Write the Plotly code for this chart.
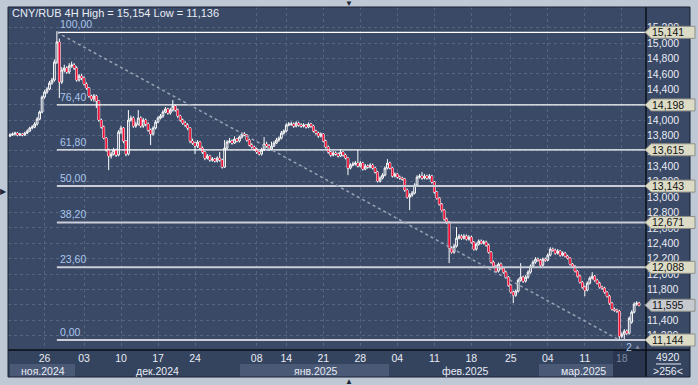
import plotly.graph_objects as go

W, H = 698, 385

# ---------------- data (CNY/RUB, 4H candles) ----------------
opens = [13.793,13.806,13.819,13.832,13.806,13.819,13.806,13.832,13.858,13.897,
13.910,13.949,14.014,14.105,14.300,14.365,14.404,14.482,14.521,14.755,
15.015,14.495,14.651,14.677,14.625,14.703,14.716,14.677,14.521,14.573,
14.547,14.469,14.417,14.313,14.274,14.313,14.248,14.001,13.910,13.767,
13.611,13.533,13.559,13.611,13.546,13.845,13.897,13.728,13.559,14.001,
14.027,13.923,13.949,14.027,13.923,14.001,13.949,13.871,13.819,13.897,
13.975,14.027,14.053,14.105,14.144,14.092,14.131,14.183,14.131,14.053,
14.001,13.962,13.936,13.897,13.728,13.702,13.663,13.715,13.637,13.585,
13.507,13.533,13.481,13.494,13.468,13.507,13.481,13.390,13.637,13.715,
13.728,13.702,13.754,13.728,13.780,13.819,13.806,13.741,13.676,13.650,
13.624,13.585,13.559,13.611,13.689,13.663,13.624,13.663,13.702,13.741,
13.767,13.832,13.858,13.936,13.949,13.949,13.923,13.962,13.936,13.923,
13.936,13.910,13.949,13.923,13.858,13.832,13.793,13.819,13.728,13.650,
13.585,13.546,13.572,13.559,13.533,13.585,13.546,13.507,13.377,13.416,
13.429,13.442,13.403,13.442,13.364,13.403,13.390,13.416,13.377,13.325,
13.208,13.247,13.286,13.377,13.442,13.377,13.273,13.299,13.260,13.247,
13.234,13.091,13.000,13.026,13.052,13.156,13.260,13.273,13.247,13.273,
13.247,13.273,13.195,13.065,12.987,12.909,12.831,12.714,12.675,12.337,
12.285,12.363,12.467,12.493,12.467,12.493,12.454,12.480,12.415,12.324,
12.389,12.428,12.402,12.415,12.376,12.285,12.155,12.103,12.038,12.129,
12.077,12.025,11.960,11.856,11.765,11.726,11.778,11.921,11.960,11.908,
11.960,12.025,12.103,12.155,12.194,12.181,12.116,12.194,12.181,12.246,
12.324,12.311,12.272,12.298,12.246,12.272,12.233,12.207,12.129,12.103,
12.038,11.973,11.895,11.830,11.791,11.882,11.947,11.973,11.921,11.882,
11.830,11.817,11.765,11.713,11.622,11.544,11.531,11.518,11.193,11.219,
11.258,11.232,11.375,11.505,11.609,11.622]

highs = [13.830,13.840,13.850,13.845,13.835,13.830,13.850,13.880,13.915,13.935,
13.975,14.040,14.125,14.320,14.390,14.430,14.510,14.550,14.790,15.154,
15.060,14.690,14.720,14.700,14.740,14.760,14.740,14.700,14.600,14.600,
14.570,14.490,14.430,14.330,14.340,14.330,14.260,14.020,13.930,13.780,
13.630,13.590,13.640,13.630,13.870,13.930,13.910,13.740,14.131,14.060,
14.050,13.980,14.131,14.050,14.030,14.020,13.970,13.890,13.920,14.000,
14.050,14.080,14.130,14.170,14.160,14.160,14.261,14.200,14.150,14.070,
14.020,13.990,13.960,13.910,13.760,13.720,13.740,13.730,13.660,13.600,
13.560,13.550,13.520,13.510,13.530,13.585,13.500,13.741,13.740,13.770,
13.750,13.790,13.770,13.800,13.840,13.845,13.820,13.760,13.700,13.670,
13.640,13.600,13.640,13.780,13.720,13.690,13.720,13.730,13.770,13.790,
13.860,13.880,13.960,13.975,13.980,13.970,13.985,13.980,13.960,13.960,
13.950,13.970,13.965,13.940,13.875,13.850,13.840,13.830,13.745,13.670,
13.600,13.600,13.595,13.580,13.620,13.600,13.565,13.520,13.440,13.460,
13.470,13.611,13.470,13.460,13.430,13.425,13.440,13.435,13.395,13.340,
13.270,13.310,13.400,13.494,13.460,13.390,13.320,13.315,13.280,13.265,
13.250,13.110,13.050,13.080,13.180,13.285,13.300,13.325,13.300,13.290,
13.300,13.290,13.210,13.080,13.000,12.925,12.845,12.735,12.690,12.360,
12.390,12.610,12.520,12.515,12.520,12.515,12.505,12.500,12.430,12.410,
12.450,12.450,12.440,12.435,12.395,12.300,12.175,12.120,12.150,12.150,
12.095,12.045,11.975,11.870,11.785,11.800,11.945,12.142,11.980,11.985,
12.050,12.125,12.180,12.220,12.215,12.200,12.215,12.215,12.270,12.350,
12.345,12.330,12.325,12.315,12.295,12.290,12.250,12.220,12.145,12.115,
12.050,11.990,11.910,11.850,11.905,11.970,12.025,11.990,11.940,11.900,
11.850,11.835,11.780,11.730,11.640,11.565,11.550,11.535,11.245,11.285,
11.280,11.450,11.530,11.635,11.648,11.640]

lows = [13.780,13.795,13.800,13.790,13.795,13.790,13.795,13.820,13.845,13.880,
13.895,13.930,14.000,14.090,14.280,14.340,14.390,14.460,14.500,14.730,
14.287,14.470,14.620,14.600,14.600,14.680,14.650,14.500,14.500,14.520,
14.450,14.395,14.290,14.250,14.240,14.157,13.980,13.890,13.750,13.590,
13.351,13.500,13.540,13.520,13.530,13.820,13.700,13.530,13.540,13.980,
13.900,13.900,13.930,13.900,13.900,13.920,13.850,13.676,13.800,13.880,
13.960,14.010,14.030,14.090,14.070,14.070,14.110,14.110,14.030,13.980,
13.940,13.910,13.870,13.700,13.680,13.559,13.640,13.610,13.560,13.480,
13.490,13.460,13.460,13.450,13.450,13.460,13.370,13.380,13.620,13.700,
13.680,13.690,13.710,13.710,13.760,13.790,13.720,13.660,13.630,13.600,
13.560,13.540,13.540,13.600,13.640,13.600,13.610,13.650,13.690,13.720,
13.750,13.810,13.840,13.920,13.925,13.900,13.905,13.915,13.900,13.905,
13.890,13.895,13.900,13.840,13.810,13.770,13.775,13.710,13.630,13.565,
13.525,13.530,13.540,13.515,13.520,13.525,13.490,13.286,13.360,13.400,
13.410,13.385,13.385,13.345,13.350,13.370,13.375,13.360,13.305,13.190,
13.190,13.230,13.270,13.360,13.360,13.255,13.255,13.240,13.225,13.215,
13.070,12.980,12.831,13.005,13.035,13.140,13.240,13.225,13.230,13.225,
13.230,13.175,13.045,12.965,12.890,12.810,12.695,12.650,12.142,12.265,
12.265,12.345,12.450,12.445,12.450,12.435,12.435,12.395,12.305,12.305,
12.370,12.385,12.385,12.355,12.265,12.135,12.080,12.015,12.020,12.055,
12.005,11.940,11.835,11.745,11.622,11.705,11.760,11.900,11.885,11.890,
11.940,12.005,12.085,12.135,12.160,12.095,12.100,12.160,12.165,12.230,
12.290,12.250,12.255,12.225,12.230,12.215,12.190,12.110,12.085,12.020,
11.955,11.875,11.810,11.713,11.775,11.865,11.930,11.900,11.865,11.810,
11.795,11.745,11.695,11.600,11.525,11.510,11.495,11.136,11.170,11.154,
11.210,11.215,11.355,11.490,11.590,11.580]

closes = [13.806,13.819,13.832,13.806,13.819,13.806,13.832,13.858,13.897,13.910,
13.949,14.014,14.105,14.300,14.365,14.404,14.482,14.521,14.755,15.015,
14.495,14.651,14.677,14.625,14.703,14.716,14.677,14.521,14.573,14.547,
14.469,14.417,14.313,14.274,14.313,14.248,14.001,13.910,13.767,13.611,
13.533,13.559,13.611,13.546,13.845,13.897,13.728,13.559,14.001,14.027,
13.923,13.949,14.027,13.923,14.001,13.949,13.871,13.819,13.897,13.975,
14.027,14.053,14.105,14.144,14.092,14.131,14.183,14.131,14.053,14.001,
13.962,13.936,13.897,13.728,13.702,13.663,13.715,13.637,13.585,13.507,
13.533,13.481,13.494,13.468,13.507,13.481,13.390,13.637,13.715,13.728,
13.702,13.754,13.728,13.780,13.819,13.806,13.741,13.676,13.650,13.624,
13.585,13.559,13.611,13.689,13.663,13.624,13.663,13.702,13.741,13.767,
13.832,13.858,13.936,13.949,13.949,13.923,13.962,13.936,13.923,13.936,
13.910,13.949,13.923,13.858,13.832,13.793,13.819,13.728,13.650,13.585,
13.546,13.572,13.559,13.533,13.585,13.546,13.507,13.377,13.416,13.429,
13.442,13.403,13.442,13.364,13.403,13.390,13.416,13.377,13.325,13.208,
13.247,13.286,13.377,13.442,13.377,13.273,13.299,13.260,13.247,13.234,
13.091,13.000,13.026,13.052,13.156,13.260,13.273,13.247,13.273,13.247,
13.273,13.195,13.065,12.987,12.909,12.831,12.714,12.675,12.337,12.285,
12.363,12.467,12.493,12.467,12.493,12.454,12.480,12.415,12.324,12.389,
12.428,12.402,12.415,12.376,12.285,12.155,12.103,12.038,12.129,12.077,
12.025,11.960,11.856,11.765,11.726,11.778,11.921,11.960,11.908,11.960,
12.025,12.103,12.155,12.194,12.181,12.116,12.194,12.181,12.246,12.324,
12.311,12.272,12.298,12.246,12.272,12.233,12.207,12.129,12.103,12.038,
11.973,11.895,11.830,11.791,11.882,11.947,11.973,11.921,11.882,11.830,
11.817,11.765,11.713,11.622,11.544,11.531,11.518,11.193,11.219,11.258,
11.232,11.427,11.505,11.609,11.622,11.595]

bars = list(range(len(closes)))

fib_levels = [15.141, 14.198, 13.615, 13.143, 12.671, 12.088, 11.144]
fib_labels = ["100,00", "76,40", "61,80", "50,00", "38,20", "23,60", "0,00"]
fib_box_text = ["15,141", "14,198", "13,615", "13,143", "12,671", "12,088", "11,144"]
peak_bar, low_bar = 19, 247
last_price, last_price_text = 11.595, "11,595"

y_ticks = [11.2, 11.4, 11.6, 11.8, 12.0, 12.2, 12.4, 12.6, 12.8, 13.0, 13.2,
           13.4, 13.6, 13.8, 14.0, 14.2, 14.4, 14.6, 14.8, 15.0, 15.2]
y_tick_text = ["11,200", "11,400", "11,600", "11,800", "12,000", "12,200", "12,400",
               "12,600", "12,800", "13,000", "13,200", "13,400", "13,600", "13,800",
               "14,000", "14,200", "14,400", "14,600", "14,800", "15,000", "15,200"]
x_ticks = [14, 30, 45, 60, 75, 100, 112, 127, 142, 157, 172, 187, 203, 218, 233, 248]
x_tick_text = ["26", "03", "10", "17", "24", "08", "14", "21", "28", "04", "11",
               "18", "25", "04", "11", ""]
month_names = ["ноя.2024", "дек.2024", "янв.2025", "фев.2025", "мар.2025"]
title_text = "CNY/RUB 4H High = 15,154 Low = 11,136"
bars_total, bars_visible = "4920", ">256<"

# ---------------- style / layout helpers ----------------
def px(x):
    return x / W

def py(y):
    return 1 - y / H

FONT = "Liberation Sans, Arial, sans-serif"
BG = "#3a4966"
FRAME = "#bfc9d6"
GRID = "#56657f"
TXT = "#e8ecf4"
FIBTXT = "#a9c6ec"
RED = "#ee1238"

fig = go.Figure()
# all candles: white outlines and wicks, hollow bullish bodies
fig.add_trace(go.Candlestick(
    x=bars, open=opens, high=highs, low=lows, close=closes,
    increasing=dict(line=dict(color="#ffffff", width=1), fillcolor=BG),
    decreasing=dict(line=dict(color="#ffffff", width=1), fillcolor=RED),
    whiskerwidth=0, hoverinfo="skip", showlegend=False,
))
# red core of the bearish bodies (body only, drawn over the outline interior)
dec = [i for i in bars if closes[i] < opens[i]]
fig.add_trace(go.Candlestick(
    x=dec, open=[opens[i] for i in dec], close=[closes[i] for i in dec],
    high=[opens[i] for i in dec], low=[closes[i] for i in dec],
    increasing=dict(line=dict(color=RED, width=0), fillcolor=RED),
    decreasing=dict(line=dict(color=RED, width=0), fillcolor=RED),
    whiskerwidth=0, hoverinfo="skip", showlegend=False,
))

shapes = []
ann = []

def txt(x, y, text, color=TXT, size=10.5, xanchor="center", yanchor="middle",
        xref="paper", yref="paper", **kw):
    ann.append(dict(x=x, y=y, xref=xref, yref=yref, text=text, showarrow=False,
                    xanchor=xanchor, yanchor=yanchor,
                    font=dict(color=color, size=size, family=FONT), **kw))

# panels
shapes.append(dict(type="rect", xref="paper", yref="paper", layer="below",
                   x0=px(646), x1=px(690), y0=py(350), y1=py(7),
                   fillcolor=BG, line=dict(width=0)))
shapes.append(dict(type="rect", xref="paper", yref="paper", layer="below",
                   x0=px(8), x1=px(690), y0=py(377), y1=py(350),
                   fillcolor="#34435e", line=dict(width=0)))
for a, b in [(10, 75), (240, 389), (539, 613)]:
    shapes.append(dict(type="rect", xref="paper", yref="paper", layer="below",
                       x0=px(a), x1=px(b), y0=py(377), y1=py(364),
                       fillcolor="#4a5976", line=dict(width=0)))
shapes.append(dict(type="rect", xref="paper", yref="paper", layer="below",
                   x0=px(613), x1=px(646), y0=py(377), y1=py(350),
                   fillcolor="#2a3650", line=dict(width=0)))
# separators / border
shapes.append(dict(type="line", xref="paper", yref="paper", x0=px(8), x1=px(690),
                   y0=py(350), y1=py(350), line=dict(color="#0b0f18", width=1.5)))
shapes.append(dict(type="line", xref="paper", yref="paper", x0=px(646), x1=px(646),
                   y0=py(7), y1=py(377), line=dict(color="#0b0f18", width=1.5)))
shapes.append(dict(type="rect", xref="paper", yref="paper", x0=px(8), x1=px(690),
                   y0=py(377), y1=py(7), line=dict(color="#1b2333", width=1)))
shapes.append(dict(type="line", xref="paper", yref="paper", x0=px(656), x1=px(681),
                   y0=py(364), y1=py(364), line=dict(color=TXT, width=1)))

# fibonacci lines
for k, lv in enumerate(fib_levels):
    thin = k < 3
    shapes.append(dict(type="line", xref="x", yref="y", x0=peak_bar, x1=257.8,
                       y0=lv, y1=lv,
                       line=dict(color="#ffffff" if thin else "#c9ced8",
                                 width=1.2 if thin else 2)))
    txt(peak_bar, lv, fib_labels[k], color=FIBTXT, xanchor="left", yanchor="bottom",
        xref="x", yref="y", xshift=1)
shapes.append(dict(type="line", xref="x", yref="y", x0=peak_bar, y0=fib_levels[0],
                   x1=low_bar, y1=fib_levels[-1],
                   line=dict(color="#9aa3b4", width=1.5, dash="dot")))

# price callouts on the right axis
d = 0.078
def callout(lv, text, fill):
    path = (f"M {px(645)},{lv} L {px(651)},{lv + d} L {px(695)},{lv + d} "
            f"L {px(695)},{lv - d} L {px(651)},{lv - d} Z")
    shapes.append(dict(type="path", xref="paper", yref="y", path=path,
                       fillcolor=fill, line=dict(color="#8d8f86", width=1)))
    txt(px(650), lv, text, color="#111111", xanchor="left", yref="y")

for lv, t in zip(fib_levels, fib_box_text):
    callout(lv, t, "#dcdcc6")
callout(last_price, last_price_text, "#c6cacf")

# texts
txt(px(10), py(13), title_text, size=11, xanchor="left")
for name, cx in zip(month_names, [43, 157, 315, 465, 583]):
    txt(px(cx), py(370.5), name)
txt(x_ticks[-1], py(357.5), "18", color="#7f8ca3", xref="x")
txt(px(668), py(357), bars_total)
txt(px(668), py(371), bars_visible)
txt(low_bar + 4, fib_levels[-1], "2", color=FIBTXT, yanchor="top", xref="x",
    yref="y", yshift=1)
txt(low_bar + 7.5, fib_levels[-1], "▲", color="#7d8799", size=7, yanchor="top",
    xref="x", yref="y", yshift=-1)
for tx, ty, ch in [(349, 3, "▼"), (349, 381, "▲"), (3, 192, "▶")]:
    txt(px(tx), py(ty), ch, color="#1e2636", size=8)

fig.update_layout(
    width=W, height=H, margin=dict(l=0, r=0, t=0, b=0),
    paper_bgcolor=FRAME, plot_bgcolor=BG, boxgap=0, boxmode="overlay",
    showlegend=False, shapes=shapes, annotations=ann,
    font=dict(family=FONT, size=10.5, color=TXT),
    xaxis=dict(domain=[px(8), px(646)], range=[-0.81, 257.8], tickmode="array",
               tickvals=x_ticks, ticktext=x_tick_text, showgrid=True, gridcolor=GRID,
               griddash="3px,3px", gridwidth=1, zeroline=False, showline=False,
               ticks="", tickfont=dict(color=TXT, size=10.5, family=FONT),
               rangeslider=dict(visible=False), automargin=False, fixedrange=True),
    yaxis=dict(domain=[py(350), py(7)], range=[11.014, 15.470], side="right",
               tickmode="array", tickvals=y_ticks, ticktext=y_tick_text,
               showgrid=True, gridcolor=GRID, griddash="3px,3px", gridwidth=1,
               zeroline=False, showline=False, ticks="",
               tickfont=dict(color=TXT, size=10.5, family=FONT),
               automargin=False, fixedrange=True),
)

fig.write_html("out.html")
